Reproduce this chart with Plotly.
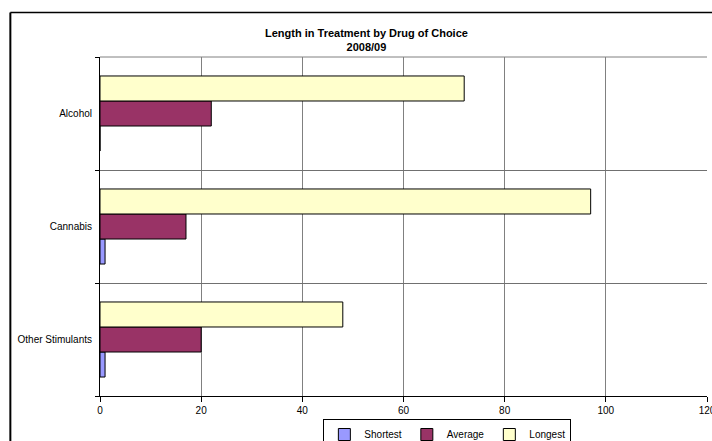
import plotly.graph_objects as go

# Drug categories, bottom to top as plotted
drugs = ["Other Stimulants", "Cannabis", "Alcohol"]

# Length in treatment (weeks) per drug
shortest = [1, 1, 0]
average = [20, 17, 22]
longest = [48, 97, 72]

x_ticks = [0, 20, 40, 60, 80, 100, 120]

series = [
    ("Shortest", shortest, "#9999FF"),
    ("Average", average, "#993366"),
    ("Longest", longest, "#FFFFCC"),
]

font_family = "Liberation Sans, Arial, sans-serif"
pos = list(range(len(drugs)))

fig = go.Figure()
for name, vals, color in series:
    fig.add_trace(go.Bar(
        name=name,
        y=pos,
        x=vals,
        orientation="h",
        marker=dict(color=color, line=dict(color="#000000", width=1)),
    ))

# invisible trace to activate the boundary grid axis
fig.add_trace(go.Scatter(x=[None], y=[None], yaxis="y2", showlegend=False, hoverinfo="skip"))

frame_left = (10.5 - 100) / 606
frame_top = 1 + (57 - 12.5) / 339

fig.update_layout(
    width=712,
    height=441,
    barmode="group",
    bargap=0.336,
    bargroupgap=0,
    plot_bgcolor="#FFFFFF",
    paper_bgcolor="#FFFFFF",
    margin=dict(l=100, r=5, t=57, b=45, autoexpand=False),
    font=dict(family=font_family, size=10, color="#000000"),
    xaxis=dict(
        range=[0, 120],
        tickvals=x_ticks,
        ticktext=[str(v) for v in x_ticks],
        showgrid=True,
        gridcolor="#808080",
        gridwidth=1,
        showline=True,
        linecolor="#000000",
        linewidth=1,
        ticks="outside",
        ticklen=5,
        tickcolor="#000000",
        zeroline=False,
        automargin=False,
        ticklabeloverflow="allow",
        tickfont=dict(size=10),
    ),
    yaxis=dict(
        range=[-0.5, 2.5],
        tickvals=pos,
        ticktext=drugs,
        showgrid=False,
        showline=True,
        linecolor="#000000",
        linewidth=1,
        ticks="",
        ticklabelstandoff=5,
        zeroline=False,
        automargin=False,
        tickfont=dict(size=10),
    ),
    yaxis2=dict(
        overlaying="y",
        anchor="x",
        side="left",
        range=[-0.5, 2.5],
        tickvals=[-0.5, 0.5, 1.5, 2.5],
        showticklabels=False,
        showgrid=True,
        gridcolor="#707070",
        gridwidth=1,
        ticks="outside",
        ticklen=4,
        tickcolor="#000000",
        zeroline=False,
        showline=False,
        automargin=False,
    ),
    legend=dict(
        orientation="h",
        x=(323 - 100) / 606,
        xanchor="left",
        y=(396 - 419) / 339,
        yanchor="top",
        bordercolor="#000000",
        borderwidth=1,
        bgcolor="#FFFFFF",
        font=dict(size=10),
        itemwidth=30,
        traceorder="normal",
    ),
    showlegend=True,
    annotations=[
        dict(
            text="<b>Length in Treatment by Drug of Choice</b><br><b>2008/09</b>",
            xref="paper",
            yref="paper",
            x=(366 - 100) / 606,
            y=1 + (57 - 25) / 339,
            xanchor="center",
            yanchor="top",
            showarrow=False,
            font=dict(size=11, family=font_family),
        )
    ],
    shapes=[
        # outer chart frame: left and top edges
        dict(
            type="line", xref="paper", yref="paper",
            x0=frame_left, x1=frame_left, y0=-1, y1=frame_top,
            line=dict(color="#000000", width=2), layer="below",
        ),
        dict(
            type="line", xref="paper", yref="paper",
            x0=frame_left, x1=2, y0=frame_top, y1=frame_top,
            line=dict(color="#000000", width=1.5), layer="below",
        ),
        # plot area top border
        dict(
            type="line", xref="paper", yref="paper",
            x0=0, x1=1, y0=1, y1=1,
            line=dict(color="#808080", width=1),
        ),
    ],
)

fig.write_html("out.html")
